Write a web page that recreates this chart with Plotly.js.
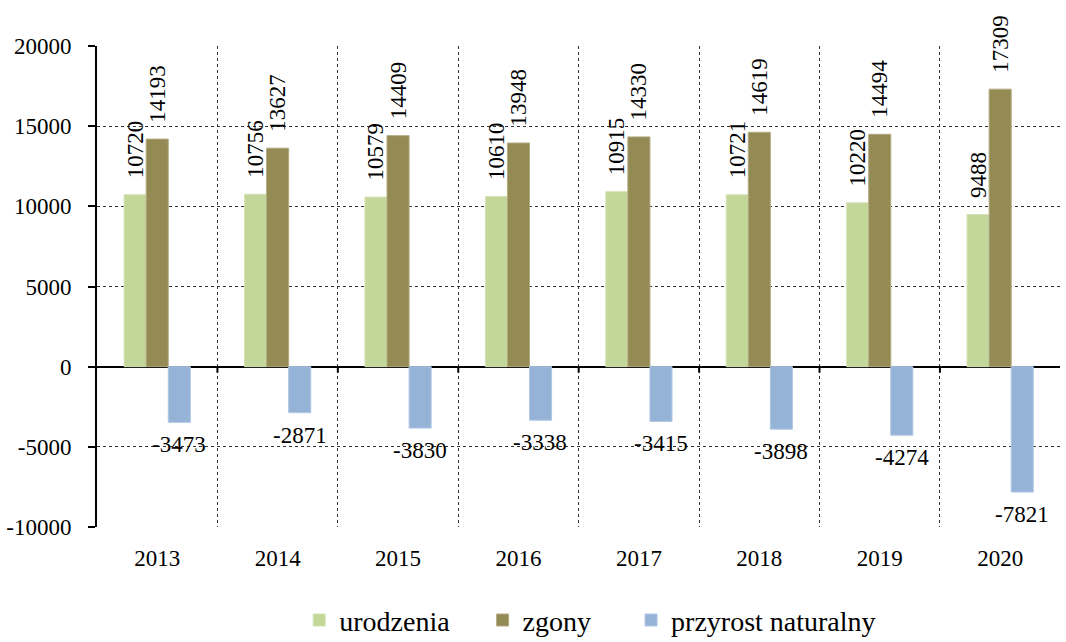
<!DOCTYPE html>
<html>
<head>
<meta charset="utf-8">
<script src="https://cdn.plot.ly/plotly-3.0.1.min.js"></script>
<style>html,body{margin:0;padding:0;background:#fff;}#chart{width:1066px;height:642px;}</style>
</head>
<body>
<div id="chart"></div>
<script>
const years = ['2013','2014','2015','2016','2017','2018','2019','2020'];
const urodzenia = [10720, 10756, 10579, 10610, 10915, 10721, 10220, 9488];
const zgony = [14193, 13627, 14409, 13948, 14330, 14619, 14494, 17309];
const przyrost = [-3473, -2871, -3830, -3338, -3415, -3898, -4274, -7821];
const seriesNames = ['urodzenia', 'zgony', 'przyrost naturalny'];
const yTicks = [-10000, -5000, 0, 5000, 10000, 15000, 20000];

const FONT = '"Liberation Serif", "Times New Roman", serif';
const pad = '\u00a0\u00a0\u200a';
const gap1 = '\u00a0\u00a0\u00a0\u00a0';
const gap2 = '\u00a0\u00a0\u00a0\u00a0\u00a0';

const traces = [
  {type:'bar', name:seriesNames[0] + gap1, x:years, y:urodzenia,
   marker:{color:'#c4d79b', line:{color:'#d5e3b5', width:1}},
   text:urodzenia.map(String), texttemplate:pad+'%{text}', textposition:'outside', textangle:-90,
   textfont:{family:FONT, size:23, color:'#000'}, cliponaxis:false, constraintext:'none', hoverinfo:'skip'},
  {type:'bar', name:seriesNames[1] + gap2, x:years, y:zgony,
   marker:{color:'#948a54', line:{color:'#b3ab82', width:1}},
   text:zgony.map(String), texttemplate:pad+'%{text}', textposition:'outside', textangle:-90,
   textfont:{family:FONT, size:23, color:'#000'}, cliponaxis:false, constraintext:'none', hoverinfo:'skip'},
  {type:'bar', name:seriesNames[2], x:years, y:przyrost,
   marker:{color:'#95b3d7', line:{color:'#b0c7e3', width:1}},
   hoverinfo:'skip'}
];

const annotations = przyrost.map((v,i)=>({
  x: i, y: v, xref:'x', yref:'y', xshift: 22, yshift: -8,
  yanchor:'top', xanchor:'center', showarrow:false, text:String(v),
  font:{family:FONT, size:23, color:'#000'}
}));

// small ticks on the zero line at category boundaries
const shapes = years.slice(0, -1).map((_, i)=>({
  type:'line', xref:'x', yref:'y', ysizemode:'pixel', yanchor:0,
  x0:i+0.5, x1:i+0.5, y0:0, y1:-6, line:{color:'#000', width:2}
}));

const layout = {
  width:1066, height:642,
  margin:{l:97, r:6, t:46, b:115, autoexpand:false},
  paper_bgcolor:'#fff', plot_bgcolor:'#fff',
  font:{family:FONT, size:23, color:'#000'},
  barmode:'group', bargap:0.45, bargroupgap:0,
  showlegend:true,
  legend:{orientation:'h', x:0.21, xanchor:'left', y:-0.142, yanchor:'top',
          font:{family:FONT, size:28, color:'#000'}, maxheight:200},
  xaxis:{type:'category', categoryarray:years, range:[-0.5, 7.497], automargin:false,
         tickson:'boundaries', ticks:'', showgrid:true, gridcolor:'#333', griddash:'dot', gridwidth:1,
         showline:false, zeroline:false, ticklabelstandoff:15,
         tickfont:{family:FONT, size:23, color:'#000'}},
  yaxis:{range:[-10000, 20000], tickvals:yTicks, ticktext:yTicks.map(String), automargin:false,
         ticks:'outside', ticklen:7, tickwidth:2, tickcolor:'#000',
         showline:true, linecolor:'#000', linewidth:2,
         showgrid:true, gridcolor:'#333', griddash:'dot', gridwidth:1,
         zeroline:true, zerolinecolor:'#000', zerolinewidth:2,
         ticklabelstandoff:12, tickfont:{family:FONT, size:23, color:'#000'}},
  annotations:annotations,
  shapes:shapes
};

Plotly.newPlot('chart', traces, layout, {staticPlot:true, displayModeBar:false});
</script>
</body>
</html>
